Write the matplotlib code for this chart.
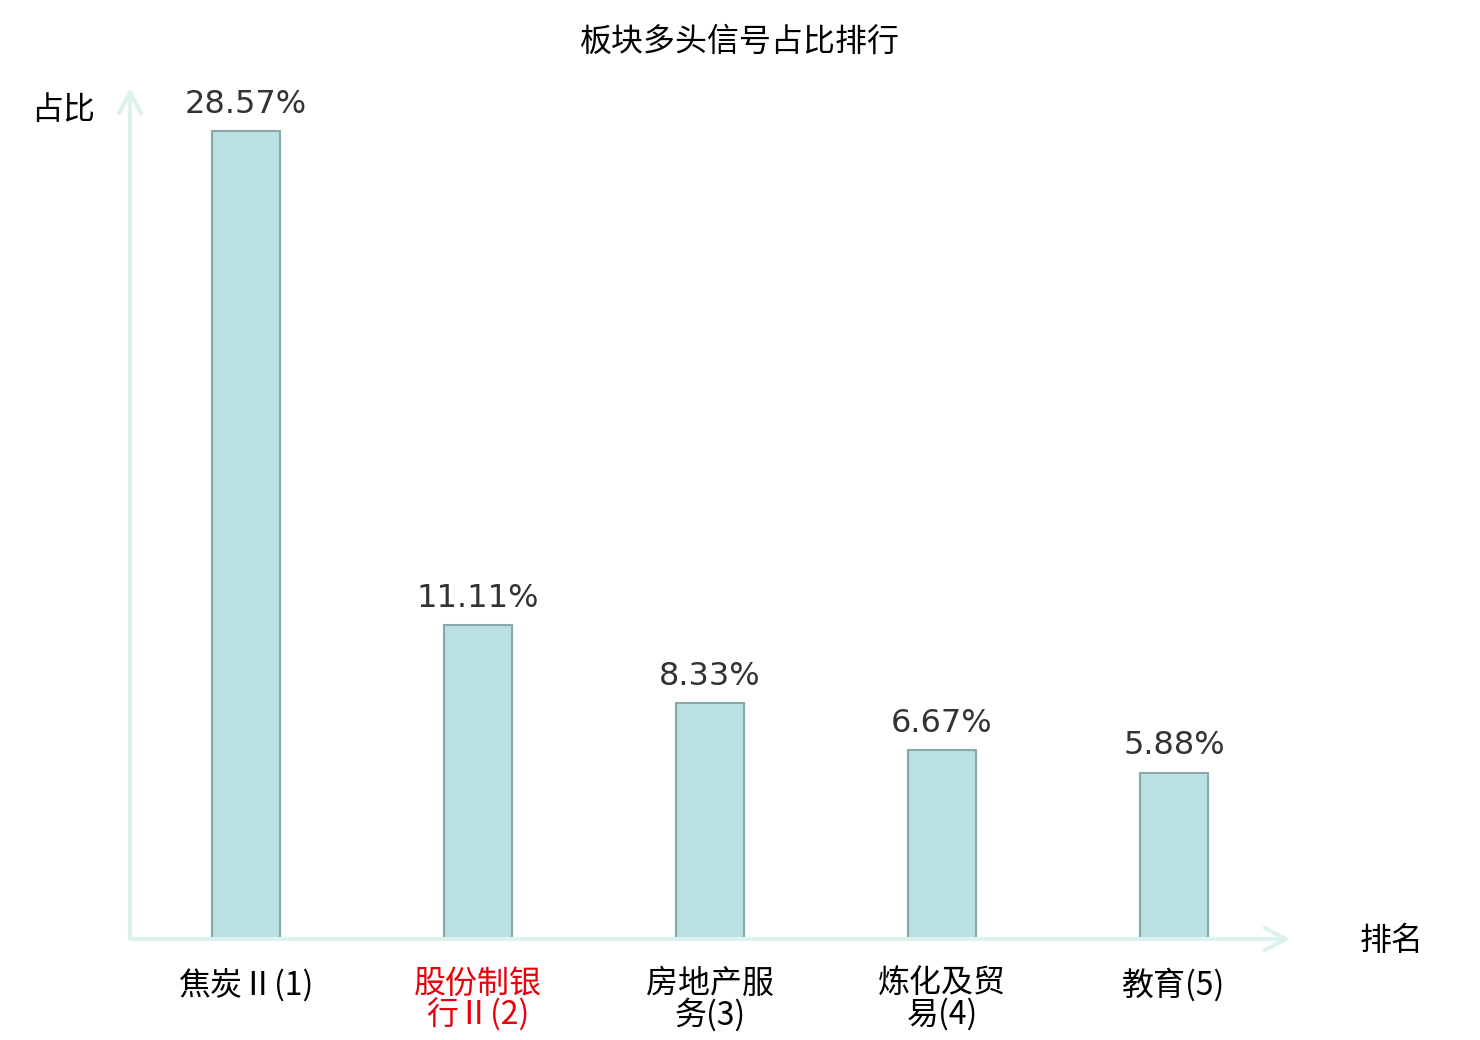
import matplotlib.pyplot as plt

plt.rcParams["font.family"] = ["Noto Sans CJK SC", "DejaVu Sans"]

categories = ["焦炭Ⅱ(1)", "股份制银\n行Ⅱ(2)", "房地产服\n务(3)", "炼化及贸\n易(4)", "教育(5)"]
values = [28.57, 11.11, 8.33, 6.67, 5.88]
value_labels = ["28.57%", "11.11%", "8.33%", "6.67%", "5.88%"]
label_colors = ["#000000", "#e8000b", "#000000", "#000000", "#000000"]

fig = plt.figure(figsize=(14.8, 10.4), dpi=100)
ax = fig.add_axes([130 / 1480, 101 / 1040, 1160 / 1480, 851 / 1040])

x = list(range(len(values)))
ax.bar(x, values, width=0.293, color="#bbe0e3", edgecolor="#8aa8a8", linewidth=1.5)

for xi, v, lab in zip(x, values, value_labels):
    ax.text(xi, v + 0.4, lab, ha="center", va="bottom", fontsize=23,
            color="#333333", family="DejaVu Sans")

ax.set_xlim(-0.5, 4.5)
ax.set_ylim(0, 30.1)
for s in ax.spines.values():
    s.set_visible(False)
ax.set_yticks([])
ax.set_xticks(x)
ax.set_xticklabels(categories, fontsize=23, linespacing=0.92)
for t, c in zip(ax.get_xticklabels(), label_colors):
    t.set_color(c)
ax.tick_params(axis="x", length=0, pad=21)

arrow_color = "#ddf1ee"
ax.annotate("", xy=(1, 0), xytext=(0, 0), xycoords="axes fraction",
            arrowprops=dict(arrowstyle="->,head_length=0.75,head_width=0.4",
                            color=arrow_color, lw=3, mutation_scale=20,
                            shrinkA=0, shrinkB=0))
ax.annotate("", xy=(0, 1), xytext=(0, 0), xycoords="axes fraction",
            arrowprops=dict(arrowstyle="->,head_length=0.75,head_width=0.4",
                            color=arrow_color, lw=3, mutation_scale=20,
                            shrinkA=0, shrinkB=0))

fig.text(63 / 1480, 1 - 110 / 1040, "占比", ha="center", va="center", fontsize=23)
fig.text(1392 / 1480, 1 - 941 / 1040, "排名", ha="center", va="center", fontsize=23)
fig.text(740 / 1480, 1 - 42 / 1040, "板块多头信号占比排行", ha="center", va="center", fontsize=23)

fig.savefig("out.png", dpi=100)
